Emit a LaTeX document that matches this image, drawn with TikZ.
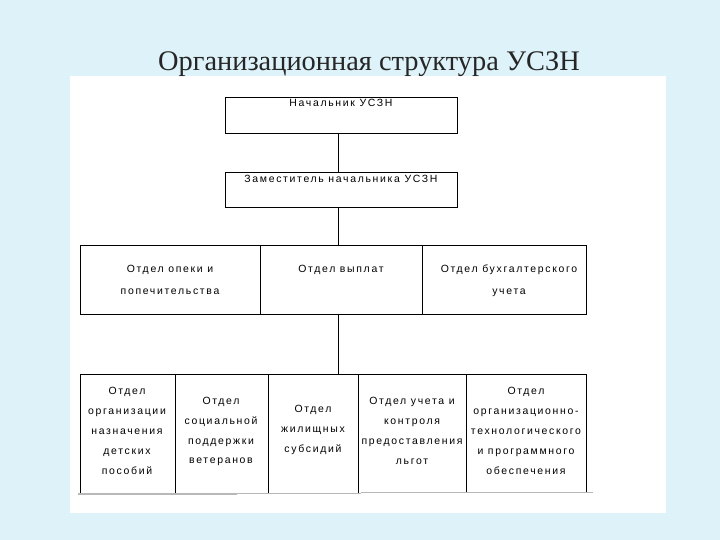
\documentclass[tikz,border=0pt]{standalone}
\usepackage{fontspec}
\setmainfont{Liberation Serif}
\newfontfamily\boxfont[LetterSpace=16]{Liberation Sans}
\definecolor{bgcyan}{HTML}{DDF3F9}
\definecolor{edgegray}{HTML}{B8B8B8}
\begin{document}
\begin{tikzpicture}[x=1bp,y=-1bp,
  cell/.style={draw=black,line width=0.9bp,anchor=north west,inner sep=0pt,outer sep=0pt},
  lbl/.style={font=\boxfont\fontsize{10.5}{20}\selectfont,align=center,inner sep=0pt,text=black},
  lbltwo/.style={font=\boxfont\fontsize{10.5}{22}\selectfont,align=center,inner sep=0pt,text=black},
  conn/.style={draw=black,line width=0.9bp}]
\fill[bgcyan] (0,0) rectangle (720,540);
\useasboundingbox (0,0) rectangle (720,540);
\fill[white] (70,76) rectangle (666,513);
\node[font=\fontsize{28.5}{32}\selectfont,text=black!85,anchor=base] (title) at (369,71) {Организационная структура УСЗН};
% top boxes
\node[cell,minimum width=232bp,minimum height=36bp] (b1) at (225,97) {};
\node[lbl,anchor=north] (t1) at (341,99) {Начальник УСЗН};
\node[cell,minimum width=232bp,minimum height=35bp] (b2) at (225,172) {};
\node[lbl,anchor=north] (t2) at (341,175) {Заместитель начальника УСЗН};
% row 3
\node[cell,minimum width=180bp,minimum height=69bp] (c1) at (80,245) {};
\node[cell,minimum width=162bp,minimum height=69bp] (c2) at (260,245) {};
\node[cell,minimum width=164bp,minimum height=69bp] (c3) at (422,245) {};
\node[lbltwo,anchor=north] (tc1) at (170,265) {Отдел опеки и\\попечительства};
\node[lbltwo,anchor=north] (tc2) at (341,265) {Отдел выплат};
\node[lbltwo,anchor=north] (tc3) at (509,265) {Отдел бухгалтерского\\учета};
% row 4 cells (top and sides)
\coordinate (r4nw) at (80,374);
\coordinate (r4ne) at (586,374);
\draw[conn] (80,493) -- (r4nw) -- (r4ne) -- (586,493);
\foreach \xx/\nm in {175/d1,268/d2,358/d3,466/d4}{
  \coordinate (\nm t) at (\xx,374);
  \coordinate (\nm b) at (\xx,493);
  \draw[conn] (\nm t) -- (\nm b);
}
\draw[edgegray,line width=2bp] (78,493.5) -- (237,493.5);
\draw[edgegray,line width=1bp] (237,493) -- (361,493);
\draw[edgegray,line width=1bp] (361,492) -- (593,492);
\node[lbl] (e1) at (127,431) {Отдел\\организации\\назначения\\детских\\пособий};
\node[lbl] (e2) at (221,431.5) {Отдел\\социальной\\поддержки\\ветеранов};
\node[lbl] (e3) at (313,430) {Отдел\\жилищных\\субсидий};
\node[lbl] (e4) at (412,431) {Отдел учета и\\контроля\\предоставления\\льгот};
\node[lbl] (e5) at (526,431) {Отдел\\организационно-\\технологического\\и программного\\обеспечения};
% connectors
\coordinate (r4top) at (338,374);
\draw[conn] (b1.south -| 338,0) -- (b2.north -| 338,0);
\draw[conn] (b2.south -| 338,0) -- (c2.north -| 338,0);
\draw[conn] (c2.south -| 338,0) -- (r4top);
\end{tikzpicture}
\end{document}
